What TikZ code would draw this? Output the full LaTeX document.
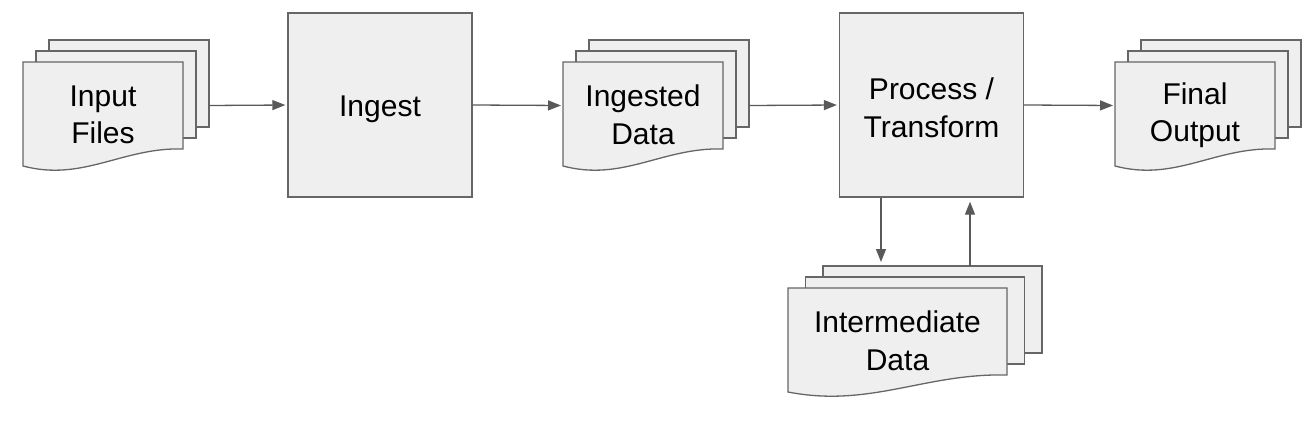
\documentclass[tikz,border=0pt]{standalone}
\usepackage{fontspec}
\setmainfont{Liberation Sans}
\usetikzlibrary{arrows.meta}

\definecolor{sheetfill}{HTML}{EFEFEF}
\definecolor{sheetline}{HTML}{666666}
\definecolor{flowline}{HTML}{595959}

\newcommand{\bigfont}{\fontsize{30}{37.5}\selectfont}

\tikzset{
	sheet/.style={draw=sheetline, fill=sheetfill, line width=1.3pt},
	paper/.style={sheet, inner sep=0pt, outer sep=0pt, anchor=north west, minimum height=87pt},
	stepbox/.style={sheet, minimum width=184pt, minimum height=184pt, inner sep=0pt},
	doctext/.style={align=center, font=\bigfont},
	flow/.style={draw=flowline, line width=1.3pt, shorten >=2pt, -{Triangle[length=13pt,width=10pt]}},
}

% stack of three sheets, the front one with a wavy foot
% #1 name, #2 left, #3 top, #4 width, #5 step, #6 text
\newcommand{\docstack}[6]{%
	\node[paper, minimum width=#4pt] (#1back) at (#2+2*#5,#3-22) {};
	\node[paper, minimum width=#4pt] (#1mid) at (#2+#5,#3-11) {};
	\draw[sheet] (#2,#3) -- (#2+#4,#3) -- (#2+#4,#3+87)
		.. controls (#2+0.625*#4,#3+85) and (#2+0.375*#4,#3+120) .. (#2,#3+104) -- cycle;
	\coordinate (#1in) at (#2,#3+43.5);
	\node[doctext] (#1) at (#2+#4/2,#3+53) {#6};
}

\begin{document}
\begin{tikzpicture}[x=1pt, y=-1pt]
	\useasboundingbox (0,0) rectangle (1313,420);

	\docstack{inputs}{23}{62}{160}{13}{Input\\Files}
	\docstack{ingested}{563}{62}{160}{13}{Ingested\\Data}
	\docstack{final}{1115}{62}{160}{13}{Final\\Output}
	\docstack{inter}{788}{288}{219}{17.5}{Intermediate\\Data}

	\node[stepbox] (ingest) at (380,105) {};
	\node[doctext] (ingesttext) at (380,109.5) {Ingest};
	\node[stepbox] (process) at (931.5,105) {};
	\node[doctext] (processtext) at (931.5,108) {Process /\\Transform};

	\draw[flow] (inputsin -| inputsback.east) -- (ingest.west);
	\draw[flow] (ingest.east) -- (ingestedin);
	\draw[flow] (ingestedin -| ingestedback.east) -- (process.west);
	\draw[flow] (process.east) -- (finalin);
	\draw[flow, shorten >=4pt] ([xshift=-50.5pt]process.south) -- ([xshift=-50.5pt]process.south |- interback.north);
	\draw[flow, shorten >=4pt] ([xshift=38.5pt]process.south |- interback.north) -- ([xshift=38.5pt]process.south);
\end{tikzpicture}
\end{document}
